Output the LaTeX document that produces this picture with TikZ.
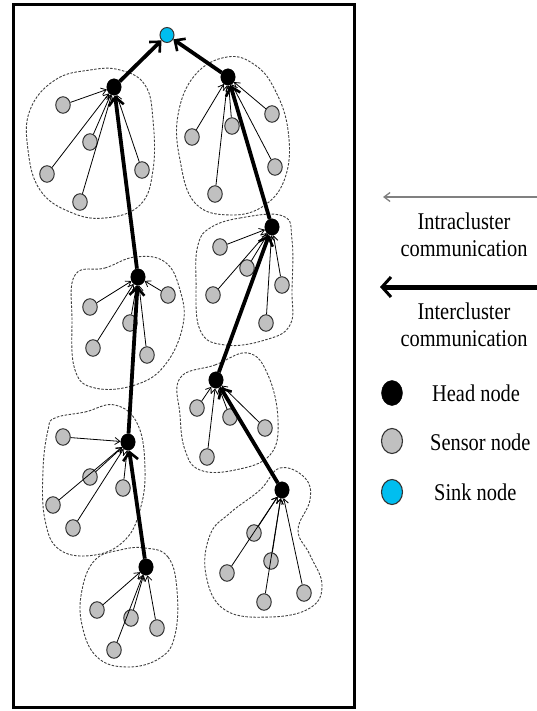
\documentclass[tikz,border=0pt]{standalone}
\usepackage{fontspec}
\setmainfont[FakeStretch=0.85]{Liberation Serif}
\usetikzlibrary{arrows.meta,shapes.geometric}
\definecolor{sensorgray}{RGB}{192,192,192}
\definecolor{sinkcyan}{RGB}{0,190,240}
\begin{document}
\begin{tikzpicture}[x=1pt,y=-1pt,
  head/.style={ellipse,fill=black,draw=black,inner sep=0pt,minimum width=14.5pt,minimum height=16.5pt},
  sensor/.style={ellipse,fill=sensorgray,draw=black!80,line width=1pt,inner sep=0pt,minimum width=14.5pt,minimum height=16.5pt},
  sink/.style={ellipse,fill=sinkcyan,draw=black!80,line width=1pt,inner sep=0pt,minimum width=14pt,minimum height=15pt},
  intra/.style={draw=black,line width=0.8pt,-{Straight Barb[length=5pt,width=7pt]}},
  inter/.style={draw=black,line width=3.8pt,-{Straight Barb[length=8pt,width=15pt,line width=2.6pt]}},
  region/.style={draw=black!75,line width=0.9pt,dash pattern=on 2.5pt off 1.5pt},
  label/.style={font=\fontsize{24}{27}\selectfont,inner sep=0pt},
  keyhead/.style={head,minimum width=21pt,minimum height=25pt},
  keysensor/.style={sensor,minimum width=21pt,minimum height=25pt,line width=1.1pt},
  keysink/.style={sink,minimum width=21pt,minimum height=25pt,line width=1.1pt}
]
\useasboundingbox (0,0) rectangle (537,711);
\fill[white] (0,0) rectangle (537,711);
\draw[line width=3pt] (13,5) rectangle (354,707);

% cluster boundaries
\draw[region] plot[smooth cycle,tension=0.7] coordinates {(120,70) (145,85) (153,120) (153,170) (140,205) (105,218) (70,212) (40,190) (28,150) (30,110) (55,80) (90,70)};
\draw[region] plot[smooth cycle,tension=0.7] coordinates {(227,57) (255,65) (275,90) (288,130) (286,175) (265,205) (230,215) (195,203) (180,160) (178,115) (195,75)};
\draw[region] plot[smooth cycle,tension=0.7] coordinates {(75,275) (105,268) (135,257) (165,262) (180,290) (183,325) (165,365) (135,385) (95,388) (75,370) (72,320)};
\draw[region] plot[smooth cycle,tension=0.7] coordinates {(210,228) (240,218) (283,216) (292,240) (292,290) (290,325) (265,340) (225,345) (200,330) (196,280) (198,245)};
\draw[region] plot[smooth cycle,tension=0.7] coordinates {(55,418) (85,412) (115,405) (138,425) (145,470) (140,510) (125,540) (95,555) (60,550) (45,520) (43,470) (48,430)};
\draw[region] plot[smooth cycle,tension=0.7] coordinates {(180,378) (215,365) (248,353) (268,375) (278,420) (270,455) (235,470) (200,470) (185,450) (180,415)};
\draw[region] plot[smooth cycle,tension=0.7] coordinates {(145,548) (168,557) (177,590) (175,635) (160,658) (127,667) (97,657) (82,625) (82,590) (95,560) (120,550)};
\draw[region] plot[smooth cycle,tension=0.7] coordinates {(260,490) (280,468) (305,478) (310,500) (298,530) (310,555) (322,585) (310,608) (270,617) (225,610) (206,575) (210,535) (230,513)};

% sink and cluster heads
\node[sink] (sink) at (167,35) {};
\node[head] (h1) at (114,87) {};
\node[head] (h2) at (228,77) {};
\node[head] (h3) at (138,277) {};
\node[head] (h4) at (272,227) {};
\node[head] (h5) at (128,442) {};
\node[head] (h6) at (216,380) {};
\node[head] (h7) at (146,567) {};
\node[head] (h8) at (282,490) {};

% sensor nodes
\foreach \n/\p in {s11/{(63,105)},s12/{(90,142)},s13/{(47,174)},s14/{(80,202)},s15/{(142,170)},
                   s21/{(272,114)},s22/{(232,126)},s23/{(192,137)},s24/{(275,167)},s25/{(215,194)},
                   s31/{(168,295)},s32/{(90,307)},s33/{(130,323)},s34/{(93,348)},s35/{(147,355)},
                   s41/{(220,247)},s42/{(247,268)},s43/{(282,285)},s44/{(213,295)},s45/{(266,323)},
                   s51/{(63,437)},s52/{(90,477)},s53/{(123,488)},s54/{(53,505)},s55/{(73,528)},
                   s61/{(197,408)},s62/{(230,417)},s63/{(265,428)},s64/{(207,457)},
                   s71/{(97,610)},s72/{(131,618)},s73/{(157,628)},s74/{(114,650)},
                   s81/{(254,533)},s82/{(271,561)},s83/{(227,573)},s84/{(304,593)},s85/{(264,602)}}
  \node[sensor] (\n) at \p {};

% intracluster links
\foreach \c/\k in {1/5,2/5,3/5,4/5,5/5,6/4,7/4,8/5}
  \foreach \i in {1,...,\k}
    \draw[intra] (s\c\i) -- (h\c);

% intercluster links
\draw[inter] (h1) -- (sink);
\draw[inter] (h2) -- (sink);
\draw[inter] (h3) -- (h1);
\draw[inter] (h5) -- (h3);
\draw[inter] (h7) -- (h5);
\draw[inter] (h4) -- (h2);
\draw[inter] (h6) -- (h4);
\draw[inter] (h8) -- (h6);

% legend
\coordinate (ga) at (537,197);
\coordinate (gb) at (383,197);
\draw[draw=black!50,line width=1.3pt,-{Straight Barb[length=6pt,width=9pt]}] (ga) -- (gb);
\node[label,align=center] (intralbl) at (464,235) {Intracluster\\communication};
\coordinate (ka) at (537,287);
\coordinate (kb) at (380,287);
\draw[draw=black,line width=5pt,-{Straight Barb[length=9pt,width=20pt,line width=3pt]}] (ka) -- (kb);
\node[label,align=center] (interlbl) at (464,325) {Intercluster\\communication};

\node[keyhead] (khead) at (392,393) {};
\node[label,anchor=west] (kheadlbl) at (432,393) {Head node};
\node[keysensor] (ksensor) at (392,441) {};
\node[label,anchor=west] (ksensorlbl) at (430,442) {Sensor node};
\node[keysink] (ksink) at (392,492) {};
\node[label,anchor=west] (ksinklbl) at (434,492) {Sink node};
\end{tikzpicture}
\end{document}
